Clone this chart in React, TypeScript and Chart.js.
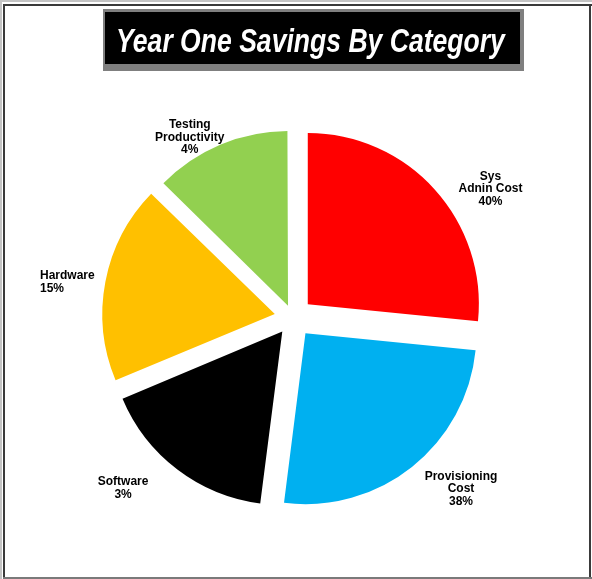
import { useEffect, useRef } from "react";
import { Chart, registerables } from "chart.js";

Chart.register(...registerables);

const TITLE = "Year One Savings By Category";
const CATEGORIES: string[][] = [
  ["Sys", "Adnin Cost"],
  ["Provisioning", "Cost"],
  ["Software"],
  ["Hardware"],
  ["Testing", "Productivity"],
];
const SLICE_SHARES = [26.6, 25.4, 16.7, 18.6, 12.7];
const PERCENT_LABELS = ["40%", "38%", "3%", "15%", "4%"];

const SLICE_COLORS = ["#FF0000", "#00B0F0", "#000000", "#FFC000", "#92D050"];
const EXPLODE_PX = [20, 20, 20, 20, 16.5];
const PIE_RADIUS = 171;
const LABEL_FONT = 'bold 12px "Liberation Sans", Arial, sans-serif';
const LABEL_LINE = 12.8;
const LABEL_LAYOUT: { angle: number; dist: number; align: CanvasTextAlign }[] = [
  { angle: 56.95, dist: 235.6, align: "center" },
  { angle: 135.6, dist: 240.1, align: "center" },
  { angle: 224.8, dist: 241.1, align: "center" },
  { angle: 277.9, dist: 255.4, align: "left" },
  { angle: 330.2, dist: 207.7, align: "center" },
];

const framePlugin = {
  id: "frameBox",
  beforeDraw(chart: any) {
    const ctx = chart.ctx as CanvasRenderingContext2D;
    const w = chart.width;
    const h = chart.height;
    ctx.save();
    ctx.fillStyle = "#ffffff";
    ctx.fillRect(0, 0, w, h);
    ctx.fillStyle = "#c4c4c4";
    ctx.fillRect(0, 0, w, 2);
    ctx.fillRect(0, 0, 2, h);
    ctx.fillStyle = "#3a3a3a";
    ctx.fillRect(3, 4, w - 3, 2);
    ctx.fillRect(3, 4, 2, h - 4);
    ctx.fillRect(589, 4, 2, h - 4);
    ctx.fillStyle = "#7a7a7a";
    ctx.fillRect(3, 577, w - 3, 2);
    ctx.restore();
  },
};

const titlePlugin = {
  id: "titleBox",
  afterDraw(chart: any) {
    const ctx = chart.ctx as CanvasRenderingContext2D;
    ctx.save();
    ctx.fillStyle = "#7f7f7f";
    ctx.fillRect(103, 9, 421, 62);
    ctx.fillStyle = "#000000";
    ctx.fillRect(105, 12, 415, 52);
    ctx.fillStyle = "#ffffff";
    ctx.font = 'italic bold 33px "Liberation Sans", Arial, sans-serif';
    ctx.textAlign = "center";
    ctx.textBaseline = "alphabetic";
    ctx.translate(310.5, 52);
    ctx.scale(0.805, 1);
    ctx.fillText(TITLE, 0, 0);
    ctx.restore();
  },
};

const labelPlugin = {
  id: "sliceLabels",
  afterDatasetsDraw(chart: any) {
    const meta = chart.getDatasetMeta(0);
    const ctx = chart.ctx as CanvasRenderingContext2D;
    ctx.save();
    ctx.font = LABEL_FONT;
    ctx.fillStyle = "#000000";
    ctx.textBaseline = "middle";
    meta.data.forEach((arc: any, i: number) => {
      const { x, y } = arc.getProps(["x", "y"], true);
      const lay = LABEL_LAYOUT[i];
      const a = (lay.angle * Math.PI) / 180;
      const ax = x + Math.sin(a) * lay.dist;
      const ay = y - Math.cos(a) * lay.dist;
      const lines = [...CATEGORIES[i], PERCENT_LABELS[i]];
      ctx.textAlign = lay.align;
      lines.forEach((ln, k) => {
        ctx.fillText(ln, ax, ay + (k - (lines.length - 1) / 2) * LABEL_LINE);
      });
    });
    ctx.restore();
  },
};

export default function App() {
  const ref = useRef<HTMLCanvasElement | null>(null);
  useEffect(() => {
    if (!ref.current) return;
    const chart = new Chart(ref.current, {
      type: "pie",
      data: {
        labels: CATEGORIES.map((c) => c.join(" ")),
        datasets: [
          {
            data: SLICE_SHARES,
            backgroundColor: SLICE_COLORS,
            borderWidth: 0,
            hoverOffset: 0,
            offset: (c: any) => {
              const vals = c.dataset.data as number[];
              const total = vals.reduce((s, v) => s + v, 0);
              const circ = ((vals[c.dataIndex] ?? 0) / total) * Math.PI * 2;
              const d = EXPLODE_PX[c.dataIndex] ?? 20;
              return (4 * d) / (2 - Math.sin(Math.min(Math.PI, circ)));
            },
          },
        ],
      },
      options: {
        responsive: false,
        animation: false,
        events: [],
        radius: PIE_RADIUS,
        layout: { padding: { left: 0, right: 6, top: 56, bottom: 0 } },
        plugins: {
          legend: { display: false },
          title: { display: false },
          tooltip: { enabled: false },
        },
      } as any,
      plugins: [framePlugin, titlePlugin, labelPlugin],
    });
    return () => chart.destroy();
  }, []);
  return (
    <div style={{ position: "absolute", left: 0, top: 0, width: 592, height: 579, background: "#fff" }}>
      <canvas ref={ref} width={592} height={579} style={{ width: 592, height: 579, display: "block" }} />
    </div>
  );
}
